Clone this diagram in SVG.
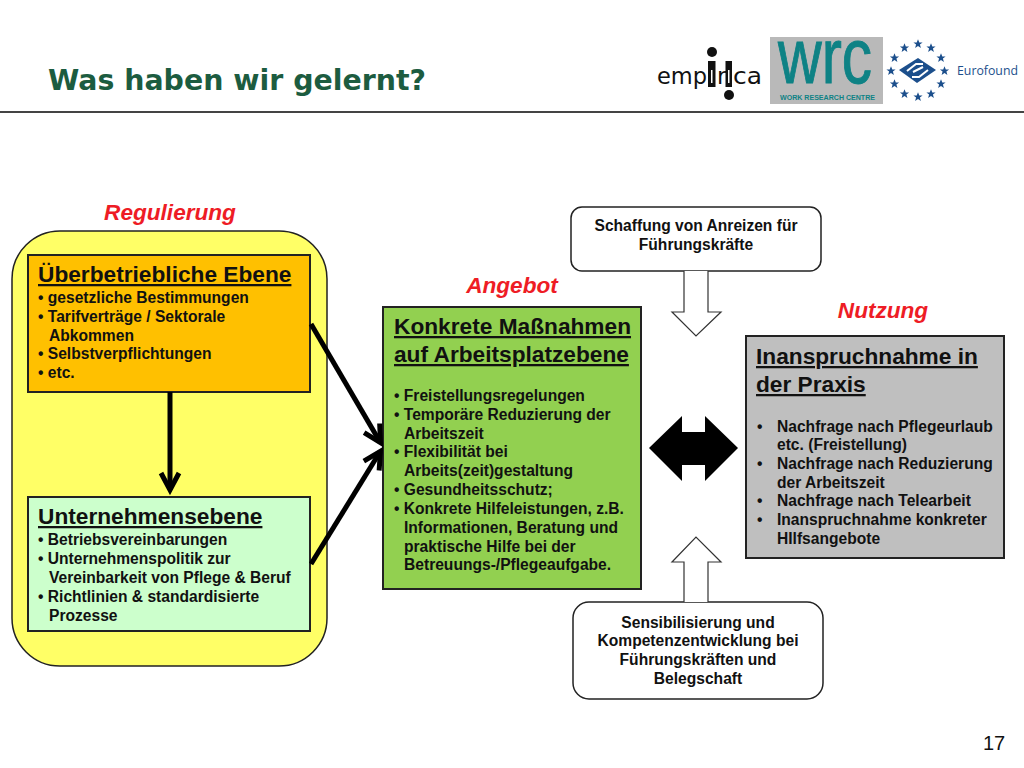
<svg xmlns="http://www.w3.org/2000/svg" width="1024" height="768" viewBox="0 0 1024 768">
<style>
text{font-family:"Liberation Sans",Arial,sans-serif;font-weight:700;fill:#111}
.b{font-size:15.6px;transform:translateY(.6px)}
.h{font-size:22.7px;text-decoration:underline}
.s{font-size:15.6px;text-anchor:middle;transform:translateY(.6px)}
.r{font-size:22.6px;font-style:italic;fill:#ee1c25;text-anchor:middle}
.box{stroke:#222;stroke-width:2}
.conn{stroke:#000;stroke-width:5;fill:none}
.hollow{fill:#fff;stroke:#333;stroke-width:1.2}
.emp{font-family:"DejaVu Sans",sans-serif;font-size:23px;font-weight:400;fill:#111}
</style>
<defs>
<marker id="ah" markerUnits="userSpaceOnUse" markerWidth="30" markerHeight="30" refX="22" refY="15" orient="auto"><path d="M5 6L22 15L5 24" fill="none" stroke="#000" stroke-width="5"/></marker>
<polygon id="star" points="0,-4.8 1.3,-1.5 4.6,-1.5 1.9,0.6 2.9,3.9 0,2 -2.9,3.9 -1.9,0.6 -4.6,-1.5 -1.3,-1.5" fill="#1c4f8c"/>
</defs>
<rect width="1024" height="768" fill="#fff"/>
<text id="title" x="48" y="90" style="font-family:'DejaVu Sans',sans-serif;font-size:28.4px;fill:#1c5c40">Was haben wir gelernt?</text>
<rect x="0" y="111" width="1024" height="2" fill="#444"/>
<g id="logos">
<text class="emp" x="657" y="84" textLength="50" lengthAdjust="spacingAndGlyphs">emp</text>
<rect x="708" y="61" width="7.5" height="26" fill="#111"/><rect x="711" y="70" width="1.5" height="13" fill="#fff"/>
<rect x="725.5" y="61" width="6.5" height="26" fill="#111"/><rect x="728" y="70" width="1.5" height="13" fill="#fff"/>
<circle cx="712" cy="52" r="5" fill="#111"/><circle cx="729" cy="95" r="5" fill="#111"/>
<text class="emp" x="717" y="84">r</text>
<text class="emp" x="733" y="84" textLength="29" lengthAdjust="spacingAndGlyphs">ca</text>
<rect x="770" y="37" width="113" height="67" fill="#b9b9b9"/>
<text x="778" y="83" style="font-size:78px;font-weight:400;fill:#0e8285;stroke:#0e8285;stroke-width:1" textLength="94" lengthAdjust="spacingAndGlyphs">wrc</text>
<text x="780" y="99.5" style="font-size:7px;fill:#0e8285" textLength="95" lengthAdjust="spacingAndGlyphs">WORK RESEARCH CENTRE</text>
<polygon points="899,70 918,58 936,70 917,83" fill="#1c4f8c"/>
<path d="M907 71L916 64L923 64M928 70L919 77L912 77M913 72L923 67" fill="none" stroke="#fff" stroke-width="2"/>
<use href="#star" x="918" y="44"/><use href="#star" x="904.5" y="48"/><use href="#star" x="931" y="48"/>
<use href="#star" x="894.5" y="58"/><use href="#star" x="941" y="58"/>
<use href="#star" x="891" y="71"/><use href="#star" x="944.5" y="71"/>
<use href="#star" x="894.5" y="84"/><use href="#star" x="941" y="84"/>
<use href="#star" x="904.5" y="94"/><use href="#star" x="931" y="94"/><use href="#star" x="918" y="97"/>
<text x="957" y="74.5" style="font-family:'Open Sans',sans-serif;font-size:13px;font-weight:400;fill:#1c4f8c" textLength="61" lengthAdjust="spacingAndGlyphs">Eurofound</text>
</g>
<g id="regulierung">
<text class="r" x="170" y="220">Regulierung</text>
<rect x="12" y="231" width="315" height="435" rx="48" fill="#ffff66" stroke="#222" stroke-width="1.5"/>
</g>
<g id="ueberbetrieblich">
<rect class="box" x="28" y="255" width="282" height="137" fill="#ffc000"/>
<text x="38" y="282" class="h">Überbetriebliche Ebene</text>
<text class="b" x="38" y="302">• gesetzliche Bestimmungen</text>
<text class="b" x="38" y="321">• Tarifverträge / Sektorale</text>
<text class="b" x="49" y="340">Abkommen</text>
<text class="b" x="38" y="358">• Selbstverpflichtungen</text>
<text class="b" x="38" y="377">• etc.</text>
</g>
<g id="unternehmen">
<rect class="box" x="28" y="497" width="282" height="134" fill="#ccffcc"/>
<text x="38" y="524" class="h">Unternehmensebene</text>
<text class="b" x="38" y="544">• Betriebsvereinbarungen</text>
<text class="b" x="38" y="563">• Unternehmenspolitik zur</text>
<text class="b" x="49" y="582">Vereinbarkeit von Pflege &amp; Beruf</text>
<text class="b" x="38" y="601">• Richtlinien &amp; standardisierte</text>
<text class="b" x="49" y="620">Prozesse</text>
</g>
<g id="angebot">
<text class="r" x="512" y="293">Angebot</text>
<rect class="box" x="383" y="307" width="258" height="282" fill="#92d050"/>
<text x="394" y="334" class="h">Konkrete Maßnahmen</text>
<text x="394" y="362" class="h">auf Arbeitsplatzebene</text>
<text class="b" x="394" y="400">• Freistellungsregelungen</text>
<text class="b" x="394" y="419">• Temporäre Reduzierung der</text>
<text class="b" x="404" y="438">Arbeitszeit</text>
<text class="b" x="394" y="456">• Flexibilität bei</text>
<text class="b" x="404" y="475">Arbeits(zeit)gestaltung</text>
<text class="b" x="394" y="494">• Gesundheitsschutz;</text>
<text class="b" x="394" y="513">• Konkrete Hilfeleistungen, z.B.</text>
<text class="b" x="404" y="532">Informationen, Beratung und</text>
<text class="b" x="404" y="551">praktische Hilfe bei der</text>
<text class="b" x="404" y="569">Betreuungs-/Pflegeaufgabe.</text>
</g>
<g id="nutzung">
<text class="r" x="883" y="318">Nutzung</text>
<rect class="box" x="746" y="336" width="258" height="222" fill="#bfbfbf"/>
<text x="756" y="364" class="h">Inanspruchnahme in</text>
<text x="756" y="392" class="h">der Praxis</text>
<text class="b" x="757" y="431">•</text><text class="b" x="777" y="431">Nachfrage nach Pflegeurlaub</text>
<text class="b" x="777" y="449">etc. (Freistellung)</text>
<text class="b" x="757" y="468">•</text><text class="b" x="777" y="468">Nachfrage nach Reduzierung</text>
<text class="b" x="777" y="487">der Arbeitszeit</text>
<text class="b" x="757" y="505">•</text><text class="b" x="777" y="505">Nachfrage nach Telearbeit</text>
<text class="b" x="757" y="524">•</text><text class="b" x="777" y="524">Inanspruchnahme konkreter</text>
<text class="b" x="777" y="543">HIlfsangebote</text>
</g>
<g id="anreize">
<rect x="571" y="207" width="250" height="64" rx="11" fill="#fff" stroke="#222" stroke-width="1.5"/>
<text class="s" x="696" y="230">Schaffung von Anreizen für</text>
<text class="s" x="696" y="249">Führungskräfte</text>
</g>
<g id="sensibilisierung">
<rect x="573" y="602" width="250" height="97" rx="16" fill="#fff" stroke="#222" stroke-width="1.5"/>
<text class="s" x="698" y="627">Sensibilisierung und</text>
<text class="s" x="698" y="645">Kompetenzentwicklung bei</text>
<text class="s" x="698" y="664">Führungskräften und</text>
<text class="s" x="698" y="683">Belegschaft</text>
</g>
<g id="connectors">
<path class="conn" d="M170 392V490" marker-end="url(#ah)"/>
<path class="conn" d="M311 324L380.5 442.7" marker-end="url(#ah)"/>
<path class="conn" d="M311 564L380.4 451.3" marker-end="url(#ah)"/>
<path class="hollow" d="M684 271V312H672L696 336L721 312H708V271"/>
<path class="hollow" d="M684 602V562H672L696 537L721 562H708V602"/>
<path d="M649 448L682 416V432H705V416L738 448L705 481V465H682V481Z" fill="#000"/>
</g>
<text id="page" x="994" y="750" style="font-size:20px;font-weight:400;text-anchor:middle">17</text>
</svg>
